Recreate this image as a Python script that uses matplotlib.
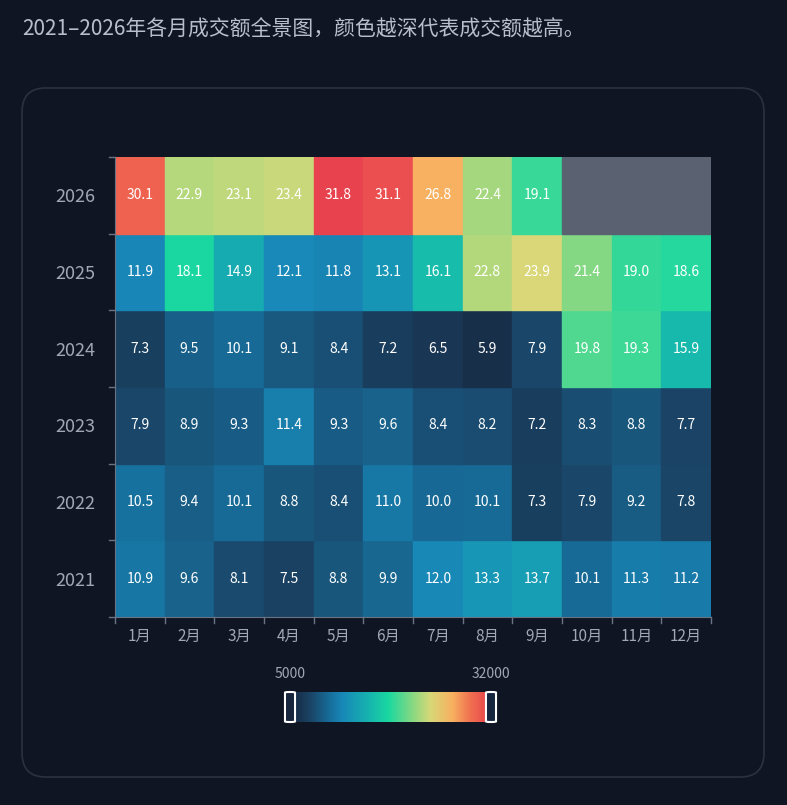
import matplotlib
matplotlib.use("Agg")
import matplotlib.pyplot as plt
import numpy as np
from matplotlib.colors import LinearSegmentedColormap, Normalize
from matplotlib.patches import FancyBboxPatch

plt.rcParams["font.family"] = ["Noto Sans CJK SC", "DejaVu Sans"]

years = ["2021", "2022", "2023", "2024", "2025", "2026"]
months = ["1月", "2月", "3月", "4月", "5月", "6月", "7月", "8月", "9月", "10月", "11月", "12月"]
v2021 = [10.9, 9.6, 8.1, 7.5, 8.8, 9.9, 12.0, 13.3, 13.7, 10.1, 11.3, 11.2]
v2022 = [10.5, 9.4, 10.1, 8.8, 8.4, 11.0, 10.0, 10.1, 7.3, 7.9, 9.2, 7.8]
v2023 = [7.9, 8.9, 9.3, 11.4, 9.3, 9.6, 8.4, 8.2, 7.2, 8.3, 8.8, 7.7]
v2024 = [7.3, 9.5, 10.1, 9.1, 8.4, 7.2, 6.5, 5.9, 7.9, 19.8, 19.3, 15.9]
v2025 = [11.9, 18.1, 14.9, 12.1, 11.8, 13.1, 16.1, 22.8, 23.9, 21.4, 19.0, 18.6]
v2026 = [30.1, 22.9, 23.1, 23.4, 31.8, 31.1, 26.8, 22.4, 19.1, np.nan, np.nan, np.nan]
vmin, vmax = 5000, 32000

data = np.array([v2021, v2022, v2023, v2024, v2025, v2026]) * 1000

bg = "#0f1523"
cmap = LinearSegmentedColormap.from_list("deal", [
    (0.0, "#17253d"), (0.10, "#1a4466"), (0.20, "#176f9c"), (0.26, "#1888b8"), (0.38, "#16b0b0"),
    (0.49, "#1ad8a0"), (0.62, "#90d880"), (0.70, "#d8d878"), (0.81, "#f8b060"),
    (0.90, "#f07050"), (1.0, "#e8404e")])
norm = Normalize(vmin, vmax)

W, H = 787, 805
fig = plt.figure(figsize=(W / 100, H / 100), dpi=100, facecolor=bg)

fig.text(22 / W, 1 - 30 / H, "2021–2026年各月成交额全景图，颜色越深代表成交额越高。",
         color="#b8bfcc", fontsize=15, va="center", ha="left")

panel = FancyBboxPatch((22 / W, 1 - 777 / H), 742 / W, 689 / H,
                       boxstyle="round,pad=0,rounding_size=0.03",
                       transform=fig.transFigure, facecolor=bg, edgecolor="#2a3242",
                       lw=1.2, zorder=-10)
fig.patches.append(panel)

ax = fig.add_axes([115 / W, 1 - 617 / H, 596 / W, 460 / H])
ax.set_facecolor(bg)
for r in range(len(years)):
    for c in range(len(months)):
        v = data[r, c]
        if np.isnan(v):
            ax.add_patch(plt.Rectangle((c, r), 1, 1, color="#5a6272"))
            continue
        ax.add_patch(plt.Rectangle((c, r), 1, 1, color=cmap(norm(v))))
        ax.text(c + 0.5, r + 0.5, f"{v / 1000:.1f}", ha="center", va="center",
                color="white", fontsize=10)
ax.set_xlim(0, 12)
ax.set_ylim(0, 6)
ax.set_xticks(np.arange(12) + 0.5)
ax.set_xticklabels(months)
ax.set_yticks(np.arange(6) + 0.5)
ax.set_yticklabels(years)
ax.tick_params(axis="x", colors="#6a7384", labelcolor="#a0a8b6", labelsize=11, length=0, pad=8)
ax.tick_params(axis="y", colors="#6a7384", labelcolor="#a0a8b6", labelsize=13, length=0, pad=14)
for s in ["top", "right"]:
    ax.spines[s].set_visible(False)
for s in ["left", "bottom"]:
    ax.spines[s].set_color("#6a7384")
# small boundary ticks
for c in range(13):
    ax.plot([c, c], [0, -0.08], color="#6a7384", lw=1, clip_on=False)
for r in range(7):
    ax.plot([0, -0.12], [r, r], color="#6a7384", lw=1, clip_on=False)

# colorbar
cax = fig.add_axes([290 / W, 1 - 722 / H, 201 / W, 30 / H])
grad = np.linspace(0, 1, 256)[None, :]
cax.imshow(grad, aspect="auto", cmap=cmap, extent=[0, 1, 0, 1])
cax.set_xlim(0, 1)
cax.axis("off")
for x in (0, 1):
    cax.add_patch(FancyBboxPatch((x - 0.025, 0.0), 0.05, 1.0,
                                 boxstyle="round,pad=0,rounding_size=0.02",
                                 facecolor=cmap(x), edgecolor="white", lw=1.5, clip_on=False))
fig.text(290 / W, 1 - 674 / H, str(vmin), color="#a0a8b6", fontsize=10, ha="center", va="center")
fig.text(491 / W, 1 - 674 / H, str(vmax), color="#a0a8b6", fontsize=10, ha="center", va="center")

fig.savefig("out.png", dpi=100, facecolor=bg)
